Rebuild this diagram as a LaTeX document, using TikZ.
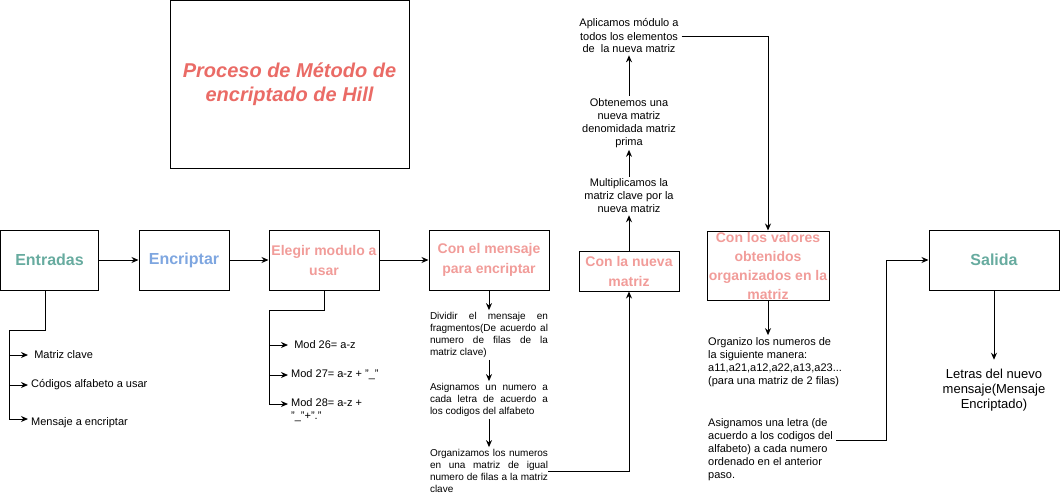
\documentclass[tikz,border=0pt]{standalone}
\usepackage{fontspec}
\setmainfont{Liberation Sans}
\usetikzlibrary{arrows.meta}
\definecolor{titlered}{HTML}{EA6B66}
\definecolor{ingreen}{HTML}{67AB9F}
\definecolor{encblue}{HTML}{7EA6E0}
\definecolor{steppink}{HTML}{F19C99}
\begin{document}
\begin{tikzpicture}[x=1pt, y=-1pt,
        box/.style={draw, line width=1pt, inner sep=0pt, align=center, font=\fontsize{16}{20}\selectfont\bfseries},
        pinkbox/.style={box, text=steppink, font=\fontsize{14}{20}\selectfont\bfseries},
        note/.style={inner sep=2pt, inner xsep=3pt, font=\fontsize{11}{13}\selectfont},
        just/.style={note, inner xsep=0pt, text width=118pt, align=justify, font=\fontsize{10}{12}\selectfont,
            execute at begin node={\tolerance=9999 \hyphenpenalty=10000 }},
        arr/.style={-{Stealth[length=7pt, width=6pt]}, line width=1pt},
        wire/.style={line width=1pt}]
            \useasboundingbox (0,0) rectangle (1061,496);

            % titulo
            \node[box, minimum width=239pt, minimum height=168pt, text=titlered, font=\fontsize{20}{24}\selectfont\bfseries\itshape] (titulo) at (289.5,84.5) {Proceso de Método de\\encriptado de Hill};

            % cajas principales
            \node[box, minimum width=98pt, minimum height=60pt, text=ingreen] (entradas) at (49.5,260) {Entradas};
            \node[box, minimum width=90pt, minimum height=60pt, text=encblue] (encriptar) at (184,260) {Encriptar};
            \node[pinkbox, minimum width=110pt, minimum height=60pt] (elegir) at (324,260) {Elegir modulo a\\usar};
            \node[pinkbox, minimum width=120pt, minimum height=60pt] (mensaje) at (489,260) {Con el mensaje\\para encriptar};
            \node[pinkbox, minimum width=100pt, minimum height=40pt] (nueva) at (629,271) {Con la nueva\\matriz};
            \node[pinkbox, minimum width=122pt, minimum height=69pt, font=\fontsize{14}{19}\selectfont\bfseries] (valores) at (768,265.5) {Con los valores\\obtenidos\\organizados en la\\matriz};
            \node[box, minimum width=130pt, minimum height=60pt, text=ingreen] (salida) at (994,260) {Salida};

            \draw[arr] (entradas) -- (encriptar);
            \draw[arr] (encriptar) -- (elegir);
            \draw[arr] (elegir) -- (mensaje);

            % entradas
            \node[note, anchor=west] (matriz) at (28,355) {\ Matriz clave};
            \node[note, anchor=west] (codigos) at (28,385) {Códigos alfabeto a usar};
            \node[note, anchor=west] (mensajeenc) at (28,423) {Mensaje a encriptar};
            \coordinate (ebus) at (9,330);
            \draw[wire] ([xshift=-4pt]entradas.south) |- (ebus);
            \draw[arr] (ebus) |- (matriz.west);
            \draw[arr] (ebus) |- (codigos.west);
            \draw[arr] (ebus) |- ([yshift=4pt]mensajeenc.west);

            % modulos
            \node[note, anchor=west] (mod26) at (288,345) {\ Mod 26= a-z};
            \node[note, anchor=west] (mod27) at (288,375) {Mod 27= a-z + "\_"};
            \node[note, anchor=west, align=left] (mod28) at (288,410.5) {Mod 28= a-z +\\"\_"+"."};
            \coordinate (mbus) at (269,310);
            \draw[wire] (elegir.south) |- (mbus);
            \draw[arr] (mbus) |- (mod26.west);
            \draw[arr] (mbus) |- (mod27.west);
            \draw[arr] (mbus) |- ([yshift=6.5pt]mod28.west);

            % mensaje
            \node[just] (dividir) at (489,335) {Dividir el mensaje en\linebreak fragmentos(De acuerdo al\linebreak numero de filas de la\linebreak matriz clave)};
            \node[just] (asigna) at (489,400) {Asignamos un numero a\linebreak cada letra de acuerdo a\linebreak los codigos del alfabeto};
            \node[just] (organizamos) at (489,471) {Organizamos los numeros\linebreak en una matriz de igual\linebreak numero de filas a la matriz\linebreak clave};
            \draw[arr] (mensaje.south) -- (dividir.north);
            \draw[arr] (dividir.south) -- (asigna.north);
            \draw[arr] (asigna.south) -- (organizamos.north);
            \draw[arr] (organizamos.east) -| (nueva.south);

            % nueva matriz
            \node[note, align=center] (multiplica) at (629,196) {Multiplicamos la\\matriz clave por la\\nueva matriz};
            \node[note, align=center] (obtenemos) at (629,123) {Obtenemos una\\nueva matriz\\denomidada matriz\\prima};
            \node[note, align=center] (aplicamos) at (629,36) {Aplicamos módulo a\\todos los elementos\\de\ \ la nueva matriz};
            \draw[arr] (nueva.north) -- (multiplica.south);
            \draw[arr] (multiplica.north) -- (obtenemos.south);
            \draw[arr] (obtenemos.north) -- (aplicamos.south);
            \draw[arr] (aplicamos.east) -| (valores.north);

            % valores
            \node[note, anchor=west, align=left] (organizo) at (705,362) {Organizo los numeros de\\la siguiente manera:\\a11,a21,a12,a22,a13,a23...\\(para una matriz de 2 filas)};
            \node[note, anchor=west, align=left] (letra) at (705,450) {Asignamos una letra (de\\acuerdo a los codigos del\\alfabeto) a cada numero\\ordenado en el anterior\\paso.};
            \draw[arr] (valores.south) -- (valores.south |- organizo.north);
            \draw[arr] ([yshift=10pt]letra.east) -- ++(50,0) |- (salida.west);

            % salida
            \node[note, align=center, inner sep=9pt, font=\fontsize{13}{15}\selectfont] (letras) at (994,390) {Letras del nuevo\\mensaje(Mensaje\\Encriptado)};
            \draw[arr] (salida.south) -- (letras.north);
        \end{tikzpicture}
\end{document}
